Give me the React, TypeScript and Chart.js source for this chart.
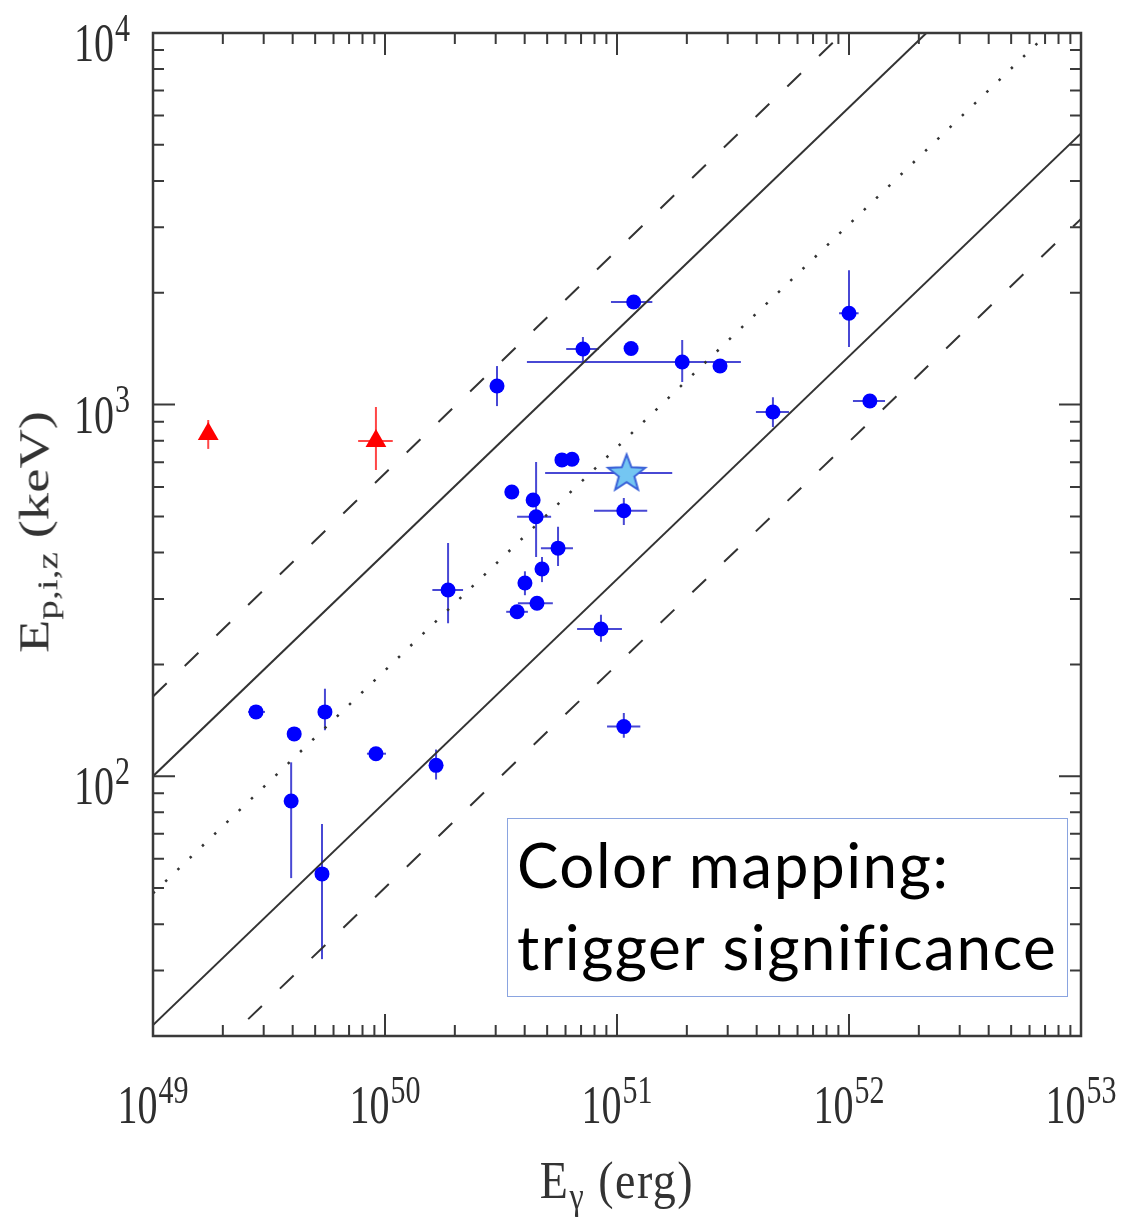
import React, { useEffect, useRef } from 'react';
import { Chart, registerables } from 'chart.js';

Chart.register(...registerables);

// ---------- axes ----------
const xMin = 1e49;
const xMax = 1e53;
const yMin = 20;
const yMax = 1e4;
const xTickValues = [1e49, 1e50, 1e51, 1e52, 1e53];
const xTickBase = ['10', '10', '10', '10', '10'];
const xTickExponent = ['49', '50', '51', '52', '53'];
const yTickValues = [1e2, 1e3, 1e4];
const yTickBase = ['10', '10', '10'];
const yTickExponent = ['2', '3', '4'];

// ---------- relation lines (end points at the x-axis limits) ----------
const relationE = [1e49, 1e53];
const upperDashedEp = [164, 41300];
const upperSolidEp = [100, 25100];
const centralDottedEp = [48.4, 12160];
const lowerSolidEp = [21.4, 5370];
const lowerDashedEp = [12.6, 3160];

// ---------- blue GRBs ----------
const blueE = [2.78e49, 4.06e49, 5.51e49, 9.14e49, 1.66e50, 3.94e49, 5.35e49, 1.18e51, 7.13e50, 1.15e51,
  1.91e51, 2.78e51, 3.04e50, 5.79e50, 6.40e50, 3.52e50, 4.35e50, 4.48e50, 1.07e51, 5.57e50,
  4.75e50, 4.01e50, 1.87e50, 4.52e50, 3.71e50, 8.53e50, 1.07e51, 1.0e52, 4.70e51, 1.23e52];
const blueEp = [149, 130, 149, 115, 107, 85.8, 54.6, 1888, 1412, 1416,
  1302, 1270, 1122, 710, 713, 582, 554, 499, 518, 411,
  361, 331, 317, 292, 277, 249, 136, 1762, 955, 1023];
const blueELo = [2.57e49, null, null, 8.36e49, null, null, null, 9.42e50, 6.04e50, null,
  4.09e50, null, null, null, null, null, null, 3.71e50, 7.96e50, 4.70e50,
  null, null, 1.60e50, 3.74e50, 3.33e50, 6.73e50, 9.06e50, 9.06e51, 3.97e51, 1.04e52];
const blueEHi = [3.04e49, null, null, 1.01e50, null, null, null, 1.42e51, 8.36e50, null,
  3.42e51, null, null, null, null, null, null, 5.20e50, 1.35e51, 6.46e50,
  null, null, 2.17e50, 5.29e50, 4.13e50, 1.05e51, 1.26e51, 1.10e52, 5.51e51, 1.43e52];
const blueEpLo = [null, null, 133, null, 98, 53.2, 32.2, null, 1302, null,
  1151, null, 991, null, null, null, null, 389, 474, 368,
  333, 307, 258, null, null, 230, 127, 1429, 871, null];
const blueEpHi = [null, null, 172, null, 118, 109, 74.4, null, 1520, null,
  1492, null, 1270, null, null, null, null, 701, 561, 469,
  389, 356, 424, null, null, 272, 148, 2301, 1047, null];

// ---------- red GRBs ----------
const redE = [1.73e49, 9.14e49];
const redEp = [834, 798];
const redELo = [null, 7.66e49];
const redEHi = [null, 1.08e50];
const redEpLo = [760, 667];
const redEpHi = [909, 985];

// ---------- highlighted GRB (star) ----------
const starE = [1.10e51];
const starEp = [655];
const starELo = [4.90e50];
const starEHi = [1.73e51];
const starEpLo = [null];
const starEpHi = [null];

const SERIF = "'Liberation Serif', 'DejaVu Serif', serif";

const errorSets = [
  { E: blueE, Ep: blueEp, ELo: blueELo, EHi: blueEHi, EpLo: blueEpLo, EpHi: blueEpHi, color: 'rgba(40,40,205,0.85)' },
  { E: redE, Ep: redEp, ELo: redELo, EHi: redEHi, EpLo: redEpLo, EpHi: redEpHi, color: 'rgba(255,50,50,0.9)' },
  { E: starE, Ep: starEp, ELo: starELo, EHi: starEHi, EpLo: starEpLo, EpHi: starEpHi, color: 'rgba(40,40,205,0.85)' },
];

const errorBarPlugin = {
  id: 'errorBars',
  beforeDatasetsDraw(chart: any) {
    const { ctx } = chart;
    const xs = chart.scales.x;
    const ys = chart.scales.y;
    ctx.save();
    ctx.lineWidth = 2;
    errorSets.forEach((s) => {
      ctx.strokeStyle = s.color;
      s.E.forEach((e: number, i: number) => {
        const px = xs.getPixelForValue(e);
        const py = ys.getPixelForValue(s.Ep[i]);
        ctx.beginPath();
        if (s.ELo[i] != null && s.EHi[i] != null) {
          ctx.moveTo(xs.getPixelForValue(s.ELo[i]), py);
          ctx.lineTo(xs.getPixelForValue(s.EHi[i]), py);
        }
        if (s.EpLo[i] != null && s.EpHi[i] != null) {
          ctx.moveTo(px, ys.getPixelForValue(s.EpLo[i]));
          ctx.lineTo(px, ys.getPixelForValue(s.EpHi[i]));
        }
        ctx.stroke();
      });
    });
    ctx.restore();
  },
};

// "10" with a raised exponent, slightly stretched vertically like the original typesetting
function drawPower(ctx: CanvasRenderingContext2D, base: string, exp: string, anchorX: number, baseline: number, align: 'center' | 'right') {
  const baseFont = `40px ${SERIF}`;
  const expFont = `30px ${SERIF}`;
  ctx.font = baseFont;
  const wb = ctx.measureText(base).width;
  ctx.font = expFont;
  const we = ctx.measureText(exp).width;
  const gap = 1;
  const total = wb + gap + we;
  const left = align === 'center' ? anchorX - total / 2 : anchorX - total;
  ctx.save();
  ctx.translate(0, baseline);
  ctx.scale(1, 1.35);
  ctx.fillStyle = '#2e2e2e';
  ctx.textBaseline = 'alphabetic';
  ctx.textAlign = 'left';
  ctx.font = baseFont;
  ctx.fillText(base, left, 0);
  ctx.font = expFont;
  ctx.fillText(exp, left + wb + gap, -15);
  ctx.restore();
}

const framePlugin = {
  id: 'frame',
  afterDraw(chart: any) {
    const { ctx, chartArea: a } = chart;
    const xs = chart.scales.x;
    const ys = chart.scales.y;
    ctx.save();
    ctx.strokeStyle = '#3a3a3a';
    ctx.lineWidth = 2;
    ctx.beginPath();
    for (let d = 49; d <= 52; d++) {
      for (let m = 1; m <= 9; m++) {
        const v = m * Math.pow(10, d);
        const px = xs.getPixelForValue(v);
        const len = m === 1 ? 22 : 11;
        ctx.moveTo(px, a.bottom);
        ctx.lineTo(px, a.bottom - len);
        ctx.moveTo(px, a.top);
        ctx.lineTo(px, a.top + len);
      }
    }
    for (let d = 1; d <= 3; d++) {
      for (let m = 1; m <= 9; m++) {
        const v = m * Math.pow(10, d);
        if (v < yMin || v > yMax) continue;
        const py = ys.getPixelForValue(v);
        const len = m === 1 ? 22 : 11;
        ctx.moveTo(a.left, py);
        ctx.lineTo(a.left + len, py);
        ctx.moveTo(a.right, py);
        ctx.lineTo(a.right - len, py);
      }
    }
    ctx.stroke();
    ctx.lineWidth = 2.5;
    ctx.strokeRect(a.left, a.top, a.right - a.left, a.bottom - a.top);

    // tick labels, placed through the scales
    xTickValues.forEach((v, i) => {
      drawPower(ctx, xTickBase[i], xTickExponent[i], xs.getPixelForValue(v), a.bottom + 87, 'center');
    });
    yTickValues.forEach((v, i) => {
      drawPower(ctx, yTickBase[i], yTickExponent[i], a.left - 23, ys.getPixelForValue(v) + 28, 'right');
    });
    ctx.restore();
  },
};

function makeStar(): HTMLCanvasElement {
  const c = document.createElement('canvas');
  c.width = 46;
  c.height = 46;
  const g = c.getContext('2d')!;
  g.beginPath();
  for (let k = 0; k < 10; k++) {
    const r = k % 2 === 0 ? 19.5 : 8.2;
    const ang = -Math.PI / 2 + (k * Math.PI) / 5;
    const px = 23 + r * Math.cos(ang);
    const py = 24 + r * Math.sin(ang);
    if (k === 0) g.moveTo(px, py);
    else g.lineTo(px, py);
  }
  g.closePath();
  g.fillStyle = '#74c6f2';
  g.fill();
  g.lineWidth = 2;
  g.strokeStyle = '#3a62d8';
  g.stroke();
  return c;
}

const lineDs = (ep: number[], dash: number[], width: number) => ({
  data: relationE.map((e, i) => ({ x: e, y: ep[i] })),
  showLine: true,
  borderColor: '#333333',
  borderWidth: width,
  borderDash: dash,
  pointRadius: 0,
  fill: false,
  tension: 0,
});

export default function App() {
  const ref = useRef<HTMLCanvasElement | null>(null);
  useEffect(() => {
    if (!ref.current) return;
    const star = makeStar();
    const chart = new Chart(ref.current, {
      type: 'scatter',
      data: {
        datasets: [
          {
            data: starE.map((e, i) => ({ x: e, y: starEp[i] })),
            pointStyle: star as any,
            pointRadius: 20,
          },
          {
            data: blueE.map((e, i) => ({ x: e, y: blueEp[i] })),
            backgroundColor: '#0000ff',
            borderColor: '#0000ff',
            borderWidth: 0,
            pointRadius: 7.5,
          },
          {
            data: redE.map((e, i) => ({ x: e, y: redEp[i] })),
            pointStyle: 'triangle',
            backgroundColor: '#ff0000',
            borderColor: '#ff0000',
            borderWidth: 0,
            pointRadius: 12,
          },
          lineDs(upperDashedEp, [19, 25], 2),
          lineDs(upperSolidEp, [], 2),
          lineDs(centralDottedEp, [2.5, 14.5], 2.5),
          lineDs(lowerSolidEp, [], 2),
          lineDs(lowerDashedEp, [19, 25], 2),
        ] as any,
      },
      options: {
        animation: false,
        responsive: false,
        events: [],
        layout: { padding: { top: 33, right: 45, bottom: 0, left: 0 } },
        plugins: { legend: { display: false }, tooltip: { enabled: false } },
        scales: {
          x: {
            type: 'logarithmic',
            position: 'bottom',
            min: xMin,
            max: xMax,
            grid: { display: false, drawTicks: false },
            border: { display: false },
            ticks: { display: false },
            afterBuildTicks: (s: any) => {
              s.ticks = xTickValues.map((v) => ({ value: v }));
            },
            afterFit: (s: any) => {
              s.height = 185;
              s.paddingLeft = 0;
              s.paddingRight = 0;
            },
          },
          y: {
            type: 'logarithmic',
            position: 'left',
            min: yMin,
            max: yMax,
            grid: { display: false, drawTicks: false },
            border: { display: false },
            ticks: { display: false },
            afterBuildTicks: (s: any) => {
              s.ticks = yTickValues.map((v) => ({ value: v }));
            },
            afterFit: (s: any) => {
              s.width = 153;
              s.paddingTop = 0;
              s.paddingBottom = 0;
            },
          },
        },
      } as any,
      plugins: [errorBarPlugin, framePlugin],
    });
    return () => chart.destroy();
  }, []);

  return (
    <div style={{ position: 'absolute', left: 0, top: 0, width: 1126, height: 1221, background: '#fff', overflow: 'hidden' }}>
      <canvas ref={ref} width={1126} height={1221} style={{ display: 'block' }} />
      <div
        style={{
          position: 'absolute', left: 617, top: 1185, transform: 'translate(-50%, -50%) scaleY(1.15)',
          fontFamily: SERIF, fontSize: 46, lineHeight: 1, whiteSpace: 'nowrap', color: '#333', letterSpacing: '1.5px',
        }}
      >
        E<sub style={{ fontSize: '0.7em', verticalAlign: '-0.3em' }}>γ</sub> (erg)
      </div>
      <div
        style={{
          position: 'absolute', left: 38, top: 532, transform: 'translate(-50%, -50%) rotate(-90deg) scaleX(1.3)',
          fontFamily: SERIF, fontSize: 42, lineHeight: 1, whiteSpace: 'nowrap', color: '#333',
        }}
      >
        E<sub style={{ fontSize: '0.72em', verticalAlign: '-0.3em' }}>p,i,z</sub> (keV)
      </div>
      <div
        style={{
          position: 'absolute', left: 507, top: 818, width: 561, height: 179, boxSizing: 'border-box',
          border: '1.5px solid #8aa4e0', background: '#fff', paddingLeft: 9, paddingTop: 4,
          fontFamily: "Lato, 'Open Sans', sans-serif", fontSize: 62, lineHeight: '82px', color: '#000',
          whiteSpace: 'nowrap', letterSpacing: '1.5px',
        }}
      >
        Color mapping:
        <br />
        trigger significance
      </div>
    </div>
  );
}
